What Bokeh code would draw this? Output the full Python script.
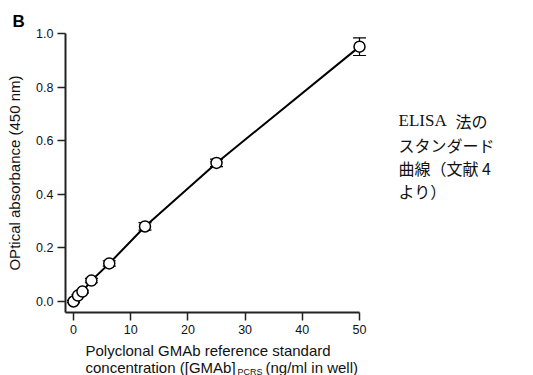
from bokeh.plotting import figure
from bokeh.layouts import column
from bokeh.models import Label, Whisker, ColumnDataSource, FixedTicker, TeeHead, Range1d
from bokeh.embed import file_html
from bokeh.resources import INLINE

# ---- data ----
conc = [0, 0.78, 1.56, 3.125, 6.25, 12.5, 25, 50]
od = [0.0, 0.022, 0.037, 0.078, 0.142, 0.28, 0.517, 0.951]
err = [0.004, 0.004, 0.005, 0.008, 0.010, 0.014, 0.014, 0.033]
x_ticks = [0, 10, 20, 30, 40, 50]
y_ticks = [0.0, 0.2, 0.4, 0.6, 0.8, 1.0]

# ---- layout geometry (pixels) ----
W, H1, H2 = 533, 342, 33
FL, FT, FR, FB = 65, 33, 525, 312          # frame edges of the main plot
PX_PER_X = 5.72                             # horizontal scale
X0 = -1.4
X1 = X0 + (FR - FL) / PX_PER_X
X_AXIS_END = 50
Y0, Y1 = -0.041, 1.0

def dx(px):
    return X0 + (px - FL) / (FR - FL) * (X1 - X0)

def dy(py):
    return Y1 - (py - FT) / (FB - FT) * (Y1 - Y0)

p = figure(width=W, height=H1, output_backend="svg", toolbar_location=None,
           x_range=Range1d(X0, X1), y_range=Range1d(Y0, Y1),
           min_border_left=FL, min_border_top=FT,
           min_border_right=W - FR, min_border_bottom=H1 - FB)
p.outline_line_color = None
p.grid.visible = False
p.background_fill_color = "white"
p.border_fill_color = "white"

# panel label "B"
p.title.text = "B"
p.title.align = "left"
p.title.offset = 12 - FL
p.title.vertical_align = "bottom"
p.title.standoff = 6
p.title.text_font = "Liberation Sans"
p.title.text_font_size = "17px"
p.title.text_font_style = "bold"
p.title.text_color = "black"

for ax in (p.xaxis[0], p.yaxis[0]):
    ax.axis_line_width = 2
    ax.axis_line_color = "#222222"
    ax.major_tick_line_color = "#222222"
    ax.major_tick_line_width = 1.5
    ax.major_tick_out = 8
    ax.major_tick_in = 0
    ax.minor_tick_line_color = None
    ax.major_label_text_font = "Liberation Sans"
    ax.major_label_text_font_size = "12.5px"
    ax.major_label_text_color = "#111111"

p.xaxis.bounds = (X0, X_AXIS_END)
p.xaxis.ticker = FixedTicker(ticks=x_ticks)
p.yaxis.ticker = FixedTicker(ticks=y_ticks)
p.yaxis.major_label_overrides = {v: f"{v:.1f}" for v in y_ticks}
p.xaxis.major_label_overrides = {v: str(v) for v in x_ticks}
p.xaxis.major_label_standoff = 4
p.yaxis.major_label_standoff = 4

p.yaxis.axis_label = "OPtical absorbance (450 nm)"
p.yaxis.axis_label_text_font = "Liberation Sans"
p.yaxis.axis_label_text_font_style = "normal"
p.yaxis.axis_label_text_font_size = "15px"
p.yaxis.axis_label_text_color = "#111111"
p.yaxis.axis_label_standoff = 10

src = ColumnDataSource(dict(x=conc, y=od,
                            lo=[a - b for a, b in zip(od, err)],
                            hi=[a + b for a, b in zip(od, err)]))

p.line("x", "y", source=src, line_color="black", line_width=2)
wh = Whisker(source=src, base="x", lower="lo", upper="hi", line_color="black", line_width=1.2,
             upper_head=TeeHead(size=13, line_color="black", line_width=1.2),
             lower_head=TeeHead(size=13, line_color="black", line_width=1.2))
p.add_layout(wh)
p.scatter("x", "y", source=src, size=11, fill_color="white", line_color="black", line_width=1.5)

def lab(fig, text, x, y, size, font="Liberation Sans", style="normal"):
    fig.add_layout(Label(x=x, y=y, text=text, text_font=font, text_font_size=size,
                         text_font_style=style, text_align="left", text_baseline="middle",
                         text_color="#111111"))

# right-hand Japanese caption (inside the widened frame)
JP = "Noto Sans CJK JP"
lab(p, "ELISA", dx(398), dy(120), "17px", font="Liberation Serif")
lab(p, "法の", dx(455), dy(120), "16px", font=JP)
lab(p, "スタンダード", dx(398), dy(144), "16px", font=JP)
lab(p, "曲線（文献 4", dx(398), dy(167), "16px", font=JP)
lab(p, "より）", dx(398), dy(190), "16px", font=JP)

# ---- strip under the plot holding the two-line x-axis title ----
# its frame is given the same horizontal extent as the main frame, and its
# ranges are set so that one unit equals one pixel of the page.
q = figure(width=W, height=H2, output_backend="svg", toolbar_location=None,
           x_range=Range1d(FL, FR), y_range=Range1d(H1 + H2, H1),
           x_axis_location=None, y_axis_location=None,
           min_border_left=FL, min_border_right=W - FR,
           min_border_top=0, min_border_bottom=0)
q.outline_line_color = None
q.grid.visible = False
q.background_fill_color = "white"
q.border_fill_color = "white"

lab(q, "Polyclonal GMAb reference standard", 85, 350, "15px")
lab(q, "concentration ([GMAb]", 85, 367, "15px")
lab(q, "PCRS", 237, 371, "9px")
lab(q, "(ng/ml in well)", 265, 367, "15px")

layout = column(p, q, spacing=0)
open("out.html", "w").write(file_html(layout, INLINE))
